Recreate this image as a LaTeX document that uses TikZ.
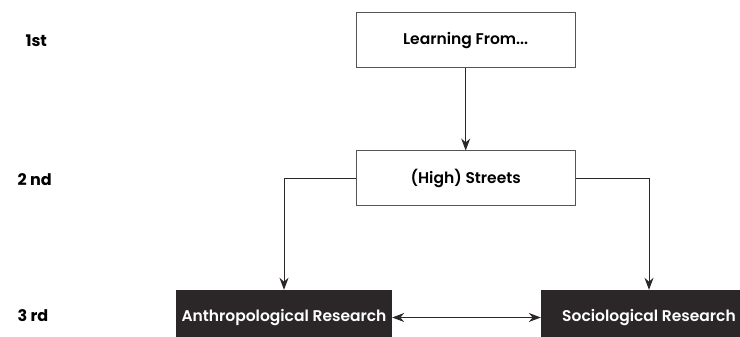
\documentclass[tikz,border=0pt]{standalone}
\usepackage{fontspec}
\setmainfont{Poppins}
\newfontfamily\boxfont{Poppins SemiBold}
\usepackage{xcolor}
\usetikzlibrary{arrows.meta}
\usetikzlibrary{positioning}
\tikzset{font={\fontsize{15.5pt}{18pt}\selectfont}}
\definecolor{boxblack}{HTML}{2B2728}
\definecolor{linegray}{HTML}{555555}

\begin{document}
\begin{tikzpicture}[x=1pt,y=1pt,
whitebox/.style={draw=linegray,line width=1pt,fill=white,minimum width=219pt,minimum height=55pt,font={\boxfont\fontsize{15.5pt}{18pt}\selectfont}},
blackbox/.style={fill=boxblack,text=white,minimum width=216pt,minimum height=55pt,inner xsep=2pt,font={\boxfont\fontsize{15.5pt}{18pt}\selectfont}},
level/.style={anchor=west,font={\bfseries\fontsize{16pt}{18pt}\selectfont}},
link/.style={draw=boxblack,line width=0.9pt,-{Stealth[length=12pt,width=9pt]}}
]
\clip (0,0) rectangle (740,337);

\node[level] (l1) at (22,296) {1st};
\node[level] (l2) at (14,157) {2 nd};
\node[level] (l3) at (14,21) {3 rd};

\node[whitebox] (learning) at (465.7,296.5) {Learning From...};
\node[whitebox] (streets) at (465.7,158.5) {(High) Streets};
\node[blackbox] (anthro) at (284,19.5) {Anthropological Research};
\node[blackbox] (socio) at (649,19.5) {Sociological Research};

\draw[link] (learning) -- (streets);
\draw[link] (streets.west) -| (anthro.north);
\draw[link] (streets.east) -| (socio.north);
\draw[link,{Stealth[length=12pt,width=9pt]}-{Stealth[length=12pt,width=9pt]}] (anthro) -- (socio);

\end{tikzpicture}
\end{document}
